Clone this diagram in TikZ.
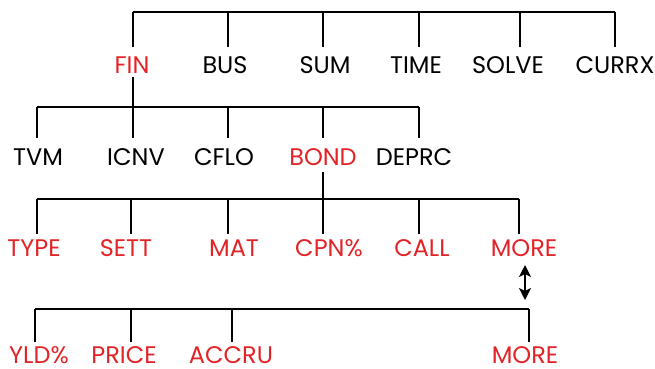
\documentclass[tikz,border=0pt]{standalone}
\usepackage{fontspec}
\setmainfont{Poppins}
\usetikzlibrary{arrows.meta}
\definecolor{hpred}{RGB}{226,35,39}
\tikzset{
  lbl/.style={anchor=base, inner sep=0pt, text height=17pt, text depth=0pt, font=\fontsize{24}{24}\selectfont},
  redlbl/.style={lbl, text=hpred},
  wire/.style={line width=2.6pt, line cap=butt},
  dblarrow/.style={line width=2pt, >={Stealth[length=12pt,width=12pt,inset=3pt]}, <->},
}
\begin{document}
\begin{tikzpicture}[x=1pt,y=-1pt]
\useasboundingbox (0,0) rectangle (655,368);
% row 1
\node[redlbl] (fin) at (132,73) {FIN};
\node[lbl] (bus) at (225,73) {BUS};
\node[lbl] (sum) at (325,73) {SUM};
\node[lbl] (time) at (416,73) {TIME};
\node[lbl] (solve) at (508,73) {SOLVE};
\node[lbl] (currx) at (615,73) {CURRX};
% row 2
\node[lbl] (tvm) at (38,165) {TVM};
\node[lbl] (icnv) at (136,165) {ICNV};
\node[lbl] (cflo) at (224,165) {CFLO};
\node[redlbl] (bond) at (323,165) {BOND};
\node[lbl] (deprc) at (414,165) {DEPRC};
% row 3
\node[redlbl] (type) at (34,256) {TYPE};
\node[redlbl] (sett) at (126,256) {SETT};
\node[redlbl] (mat) at (234,256) {MAT};
\node[redlbl] (cpn) at (329,256) {CPN\%};
\node[redlbl] (call) at (422,256) {CALL};
\node[redlbl] (more) at (524,256) {MORE};
% row 4
\node[redlbl] (yld) at (39,363.5) {YLD\%};
\node[redlbl] (price) at (124,363.5) {PRICE};
\node[redlbl] (accru) at (231,363.5) {ACCRU};
\node[redlbl] (more2) at (525,363.5) {MORE};
% bar coordinates
\coordinate (a1) at (133,12); \coordinate (a2) at (228,12); \coordinate (a3) at (323,12);
\coordinate (a4) at (419,12); \coordinate (a5) at (520,12); \coordinate (a6) at (615,12);
\coordinate (b1) at (37,107); \coordinate (b2) at (133,107); \coordinate (b3) at (228,107);
\coordinate (b4) at (323,107); \coordinate (b5) at (419,107);
\coordinate (c1) at (37,199); \coordinate (c2) at (131,199); \coordinate (c3) at (228,199);
\coordinate (c4) at (323,199); \coordinate (c5) at (419,199); \coordinate (c6) at (519,199);
\coordinate (d1) at (35,309); \coordinate (d2) at (131,309); \coordinate (d3) at (232,309);
\coordinate (d4) at (529,309);
\coordinate (up) at (525,265); \coordinate (down) at (525,300);
% row 1 connectors
\draw[wire] (a1) -- (a6);
\foreach \c/\n in {a1/fin,a2/bus,a3/sum,a4/time,a5/solve,a6/currx}
  \draw[wire, shorten >=9pt] (\c) -- (\c |- \n.north);
% row 2 connectors
\draw[wire, shorten <=4pt] (b2 |- fin.base) -- (b2);
\draw[wire] (b1) -- (b5);
\foreach \c/\n in {b1/tvm,b2/icnv,b3/cflo,b4/bond,b5/deprc}
  \draw[wire, shorten >=10pt] (\c) -- (\c |- \n.north);
% row 3 connectors
\draw[wire, shorten <=7pt] (c4 |- bond.base) -- (c4);
\draw[wire] (c1) -- (c6);
\foreach \c/\n in {c1/type,c2/sett,c3/mat,c4/cpn,c5/call,c6/more}
  \draw[wire, shorten >=5pt] (\c) -- (\c |- \n.north);
% arrow between MORE screens
\draw[dblarrow] (up) -- (down);
% row 4 connectors
\draw[wire] (d1) -- (d4);
\foreach \c/\n in {d1/yld,d2/price,d3/accru,d4/more2}
  \draw[wire, shorten >=4pt] (\c) -- (\c |- \n.north);
\end{tikzpicture}
\end{document}
